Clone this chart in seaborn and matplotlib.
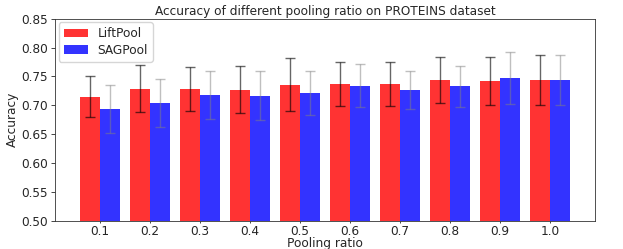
import matplotlib
matplotlib.use("Agg")
import matplotlib.pyplot as plt
import seaborn as sns
import pandas as pd
import numpy as np

# values
ratios = ["0.1", "0.2", "0.3", "0.4", "0.5", "0.6", "0.7", "0.8", "0.9", "1.0"]
lift_acc = [0.715, 0.729, 0.729, 0.727, 0.736, 0.737, 0.737, 0.744, 0.742, 0.744]
lift_std = [0.035, 0.041, 0.038, 0.041, 0.046, 0.038, 0.038, 0.040, 0.041, 0.044]
sag_acc = [0.694, 0.704, 0.718, 0.717, 0.721, 0.734, 0.727, 0.733, 0.747, 0.744]
sag_std = [0.042, 0.041, 0.042, 0.042, 0.038, 0.037, 0.033, 0.035, 0.045, 0.044]

df = pd.DataFrame({
    "ratio": ratios * 2,
    "acc": lift_acc + sag_acc,
    "std": lift_std + sag_std,
    "method": ["LiftPool"] * len(ratios) + ["SAGPool"] * len(ratios),
})

sns.set_style("ticks")
plt.rcParams["font.family"] = ["DejaVu Sans"]

fs = 8.7
fig = plt.figure(figsize=(6.23, 2.49), dpi=100)
ax = fig.add_axes([0.0885, 0.1124, 0.866, 0.8126])

sns.barplot(data=df, x="ratio", y="acc", hue="method",
            palette=["red", "blue"], alpha=0.8, saturation=1,
            errorbar=None, width=0.8, ax=ax, linewidth=0)

# error bars at bar centres
n = len(ratios)
x = np.arange(n)
ax.errorbar(x - 0.2, lift_acc, yerr=lift_std, fmt="none",
            ecolor="black", alpha=0.6, capsize=3.5, elinewidth=1, capthick=1)
ax.errorbar(x + 0.2, sag_acc, yerr=sag_std, fmt="none",
            ecolor="gray", alpha=0.5, capsize=3.5, elinewidth=1, capthick=1)

ax.set_ylim(0.5, 0.85)
ax.set_yticks(np.arange(0.5, 0.851, 0.05))
ax.set_yticklabels([f"{v:.2f}" for v in np.arange(0.5, 0.851, 0.05)])
ax.set_xlim(-0.89, n - 1 + 0.89)
ax.tick_params(labelsize=fs, length=3, width=0.6, pad=2)
ax.tick_params(axis="x", length=1.5, pad=1.5)
ax.set_xlabel("Pooling ratio", fontsize=fs, labelpad=-1)
ax.set_ylabel("Accuracy", fontsize=fs, labelpad=2)
ax.set_title("Accuracy of different pooling ratio on PROTEINS dataset",
             fontsize=fs, pad=3)
for s in ax.spines.values():
    s.set_linewidth(0.6)
    s.set_color("#333333")

ax.legend(loc="upper left", fontsize=fs, frameon=True, handlelength=2.0,
          borderpad=0.4, labelspacing=0.3, borderaxespad=0.3)

fig.savefig("out.png", dpi=100)
